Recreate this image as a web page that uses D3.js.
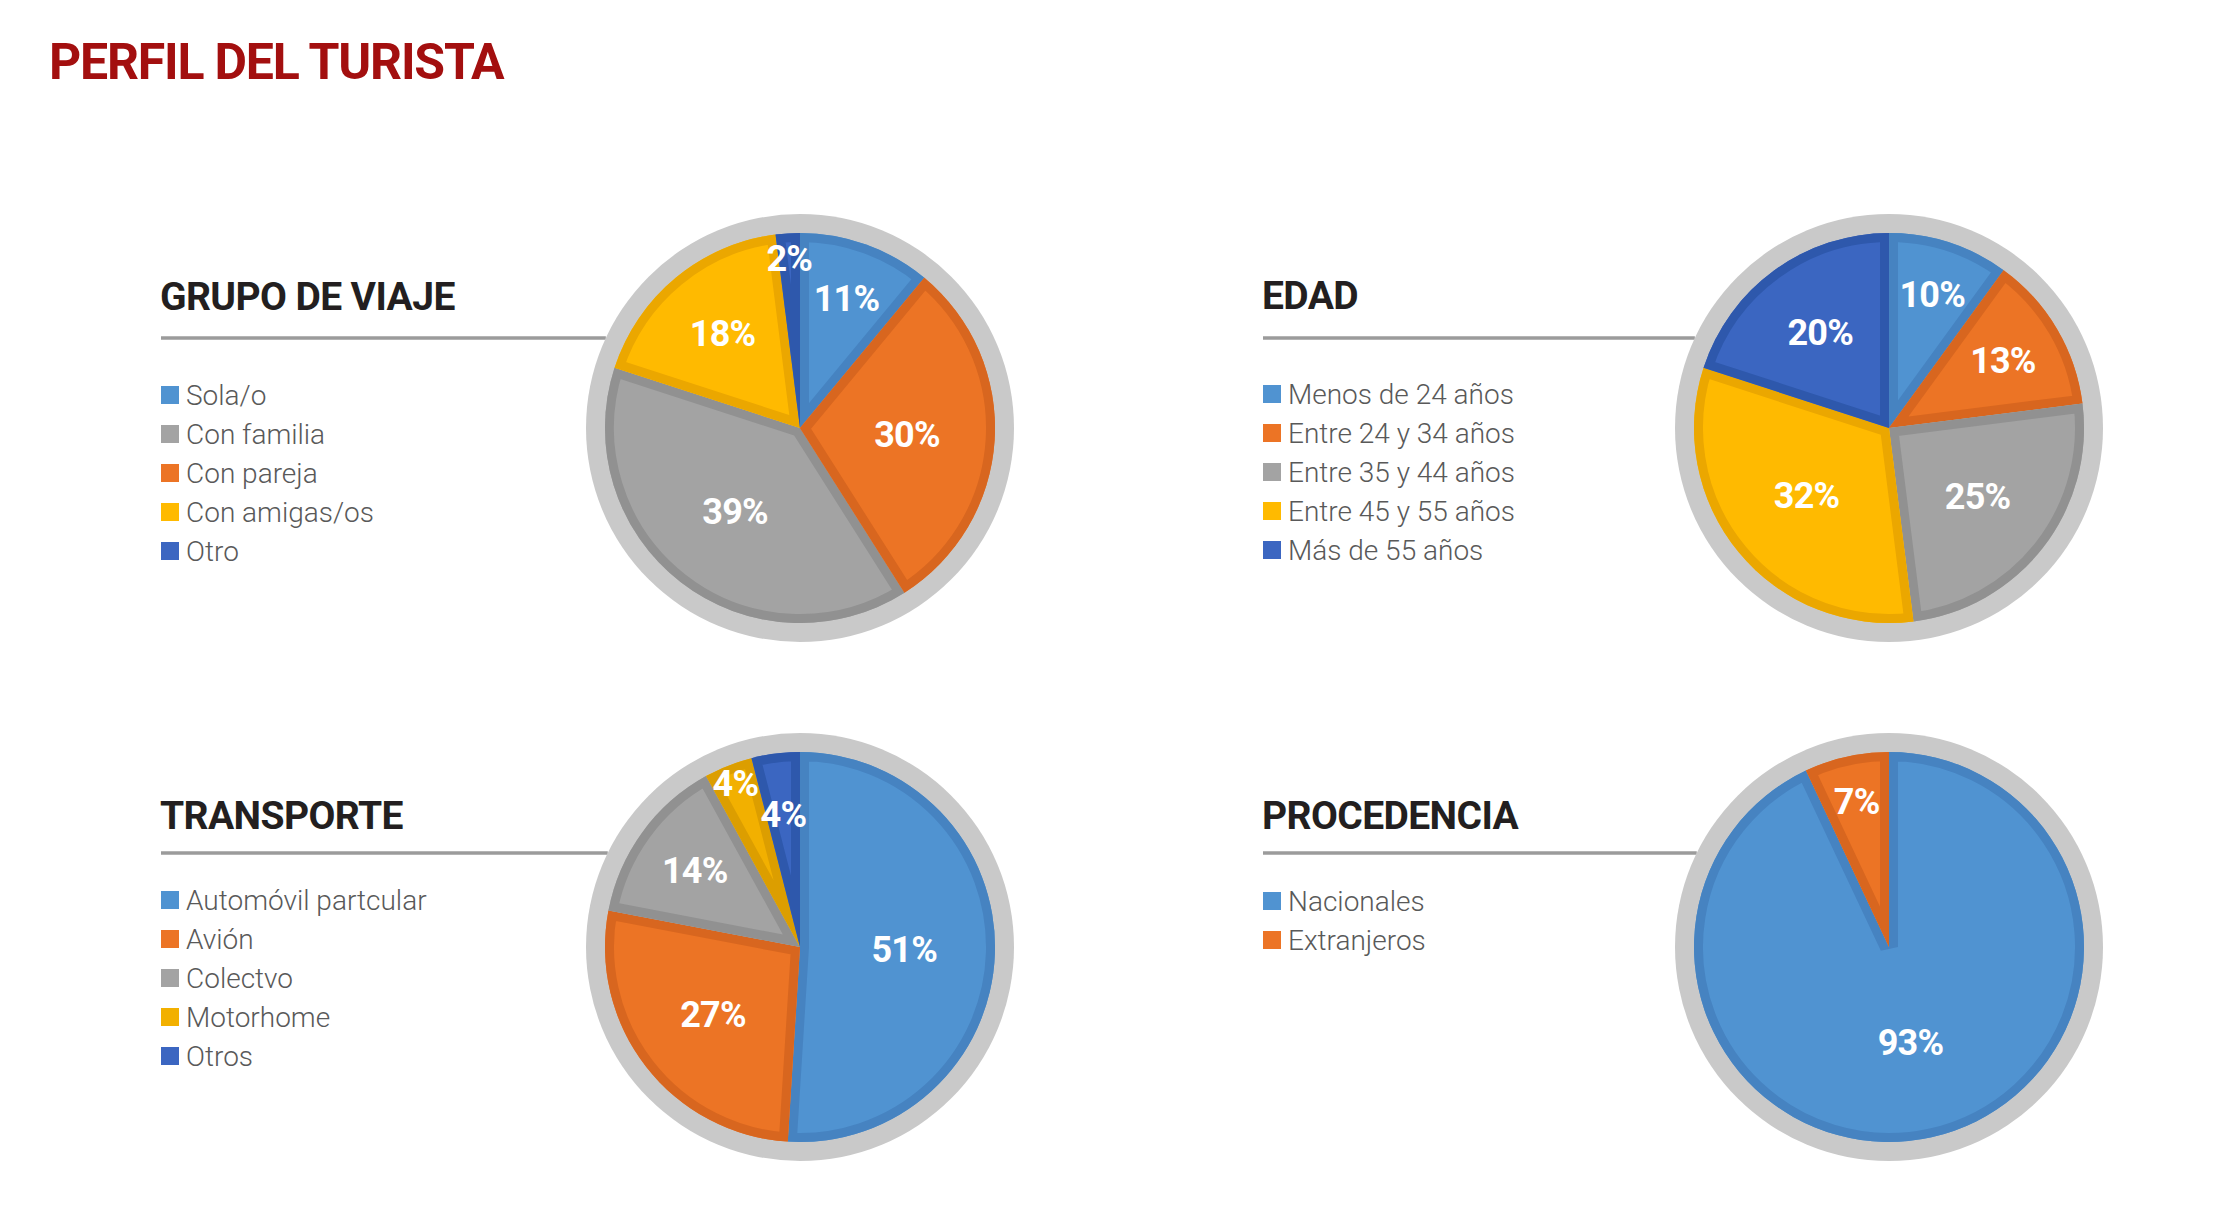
<!DOCTYPE html>
<html><head><meta charset="utf-8">
<script src="https://cdn.jsdelivr.net/npm/d3@7"></script>
<style>html,body{margin:0;padding:0;background:#fff;} svg{display:block}</style>
</head><body>
<svg id="chart" width="2219" height="1209"></svg>
<script>
// ---------- DATA ----------
const grupoCategories = ["Sola/o", "Con familia", "Con pareja", "Con amigas/os", "Otro"];
const grupoValues = [11, 39, 30, 18, 2];
const grupoPieOrder = ["Sola/o", "Con pareja", "Con familia", "Con amigas/os", "Otro"];

const edadCategories = ["Menos de 24 años", "Entre 24 y 34 años", "Entre 35 y 44 años", "Entre 45 y 55 años", "Más de 55 años"];
const edadValues = [10, 13, 25, 32, 20];

const transporteCategories = ["Automóvil partcular", "Avión", "Colectvo", "Motorhome", "Otros"];
const transporteValues = [51, 27, 14, 4, 4];

const procedenciaCategories = ["Nacionales", "Extranjeros"];
const procedenciaValues = [93, 7];

// ---------- STYLE ----------
const palette = {
  blue:   {fill: "#5093D1", edge: "#4683C1"},
  orange: {fill: "#EC7425", edge: "#D8661F"},
  gray:   {fill: "#A3A3A3", edge: "#919191"},
  yellow: {fill: "#FFBA00", edge: "#EBA700"},
  gold:   {fill: "#F2B000", edge: "#DC9E00"},
  navy:   {fill: "#3B66C1", edge: "#2E58AC"}
};

const charts = [
  {title: "GRUPO DE VIAJE", cats: grupoCategories, vals: grupoValues, order: grupoPieOrder,
   colors: ["blue", "gray", "orange", "yellow", "navy"], cx: 800, cy: 428, tx: 161, titleY: 310, lineY: 338, legendY: 395},
  {title: "EDAD", cats: edadCategories, vals: edadValues, order: edadCategories,
   colors: ["blue", "orange", "gray", "yellow", "navy"], cx: 1889, cy: 428, tx: 1263, titleY: 309, lineY: 338, legendY: 394},
  {title: "TRANSPORTE", cats: transporteCategories, vals: transporteValues, order: transporteCategories,
   colors: ["blue", "orange", "gray", "gold", "navy"], cx: 800, cy: 947, tx: 161, titleY: 829, lineY: 853, legendY: 900},
  {title: "PROCEDENCIA", cats: procedenciaCategories, vals: procedenciaValues, order: procedenciaCategories,
   colors: ["blue", "orange"], cx: 1889, cy: 947, tx: 1263, titleY: 829, lineY: 853, legendY: 901}
];

const R = 195, ringR = 214, edgeW = 9, legendStep = 39;
const labelRadius = d3.scaleLinear().domain([2, 7, 12, 20, 30, 100]).range([0.87, 0.76, 0.69, 0.6, 0.55, 0.5]).clamp(true);

const svg = d3.select("#chart");

svg.append("text")
  .attr("x", 49).attr("y", 79)
  .attr("font-family", "Roboto, 'Liberation Sans', sans-serif")
  .attr("font-weight", 700).attr("font-size", 50)
  .attr("letter-spacing", -1.2)
  .attr("fill", "#A30F0F")
  .text("PERFIL DEL TURISTA");

const arc = d3.arc().innerRadius(0).outerRadius(R);
const pie = d3.pie().value(d => d.value);

charts.forEach((c, ci) => {
  const data = c.cats.map((cat, i) => ({cat, value: c.vals[i], color: palette[c.colors[i]]}));
  pie.sort((a, b) => c.order.indexOf(a.cat) - c.order.indexOf(b.cat));
  const arcs = pie(data);

  // Section title
  svg.append("text")
    .attr("x", c.tx - 1).attr("y", c.titleY)
    .attr("font-family", "Roboto, 'Liberation Sans', sans-serif")
    .attr("font-weight", 700).attr("font-size", 39)
    .attr("letter-spacing", -0.6)
    .attr("fill", "#231F20")
    .text(c.title);

  // Line to the ring
  const dy = c.cy - c.lineY;
  svg.append("line")
    .attr("x1", c.tx).attr("x2", c.cx - Math.sqrt(ringR * ringR - dy * dy))
    .attr("y1", c.lineY).attr("y2", c.lineY)
    .attr("stroke", "#9B9B9B").attr("stroke-width", 3.5);

  // Legend
  const lg = svg.append("g");
  data.forEach((d, i) => {
    const y = c.legendY + i * legendStep;
    lg.append("rect").attr("x", c.tx).attr("y", y - 9).attr("width", 18).attr("height", 18).attr("fill", d.color.fill);
    lg.append("text").attr("x", c.tx + 25).attr("y", y)
      .attr("dominant-baseline", "central")
      .attr("font-family", "Roboto, 'Liberation Sans', sans-serif")
      .attr("font-weight", 300).attr("font-size", 28)
      .attr("fill", "#595959")
      .text(d.cat);
  });

  // Pie
  const g = svg.append("g").attr("transform", `translate(${c.cx},${c.cy})`);
  g.append("circle").attr("r", ringR).attr("fill", "#C9C9C9");

  arcs.forEach((a, i) => {
    const id = `clip-${ci}-${i}`;
    g.append("clipPath").attr("id", id).append("path").attr("d", arc(a));
    g.append("path").attr("d", arc(a)).attr("fill", a.data.color.fill);
    g.append("path").attr("d", arc(a)).attr("fill", "none")
      .attr("stroke", a.data.color.edge).attr("stroke-width", edgeW * 2)
      .attr("stroke-linejoin", "miter")
      .attr("clip-path", `url(#${id})`);
  });

  // Labels
  const pos = arcs.map(a => {
    const mid = (a.startAngle + a.endAngle) / 2;
    return {a, mid, f: labelRadius(a.data.value)};
  });
  for (let i = 1; i < pos.length; i++) {
    const p = pos[i - 1], q = pos[i];
    const px = Math.sin(p.mid) * p.f * R, py = -Math.cos(p.mid) * p.f * R;
    const qx = Math.sin(q.mid) * q.f * R, qy = -Math.cos(q.mid) * q.f * R;
    if (Math.hypot(px - qx, py - qy) < 55) { p.f = 0.9; q.f = 0.68; }
  }
  pos.forEach(p => {
    g.append("text")
      .attr("x", Math.sin(p.mid) * p.f * R)
      .attr("y", -Math.cos(p.mid) * p.f * R)
      .attr("text-anchor", "middle").attr("dominant-baseline", "central")
      .attr("font-family", "Roboto, 'Liberation Sans', sans-serif")
      .attr("font-weight", 700).attr("font-size", 36)
      .attr("letter-spacing", -0.8)
      .attr("fill", "#FFFFFF")
      .text(p.a.data.value + "%");
  });
});
</script>
</body></html>
